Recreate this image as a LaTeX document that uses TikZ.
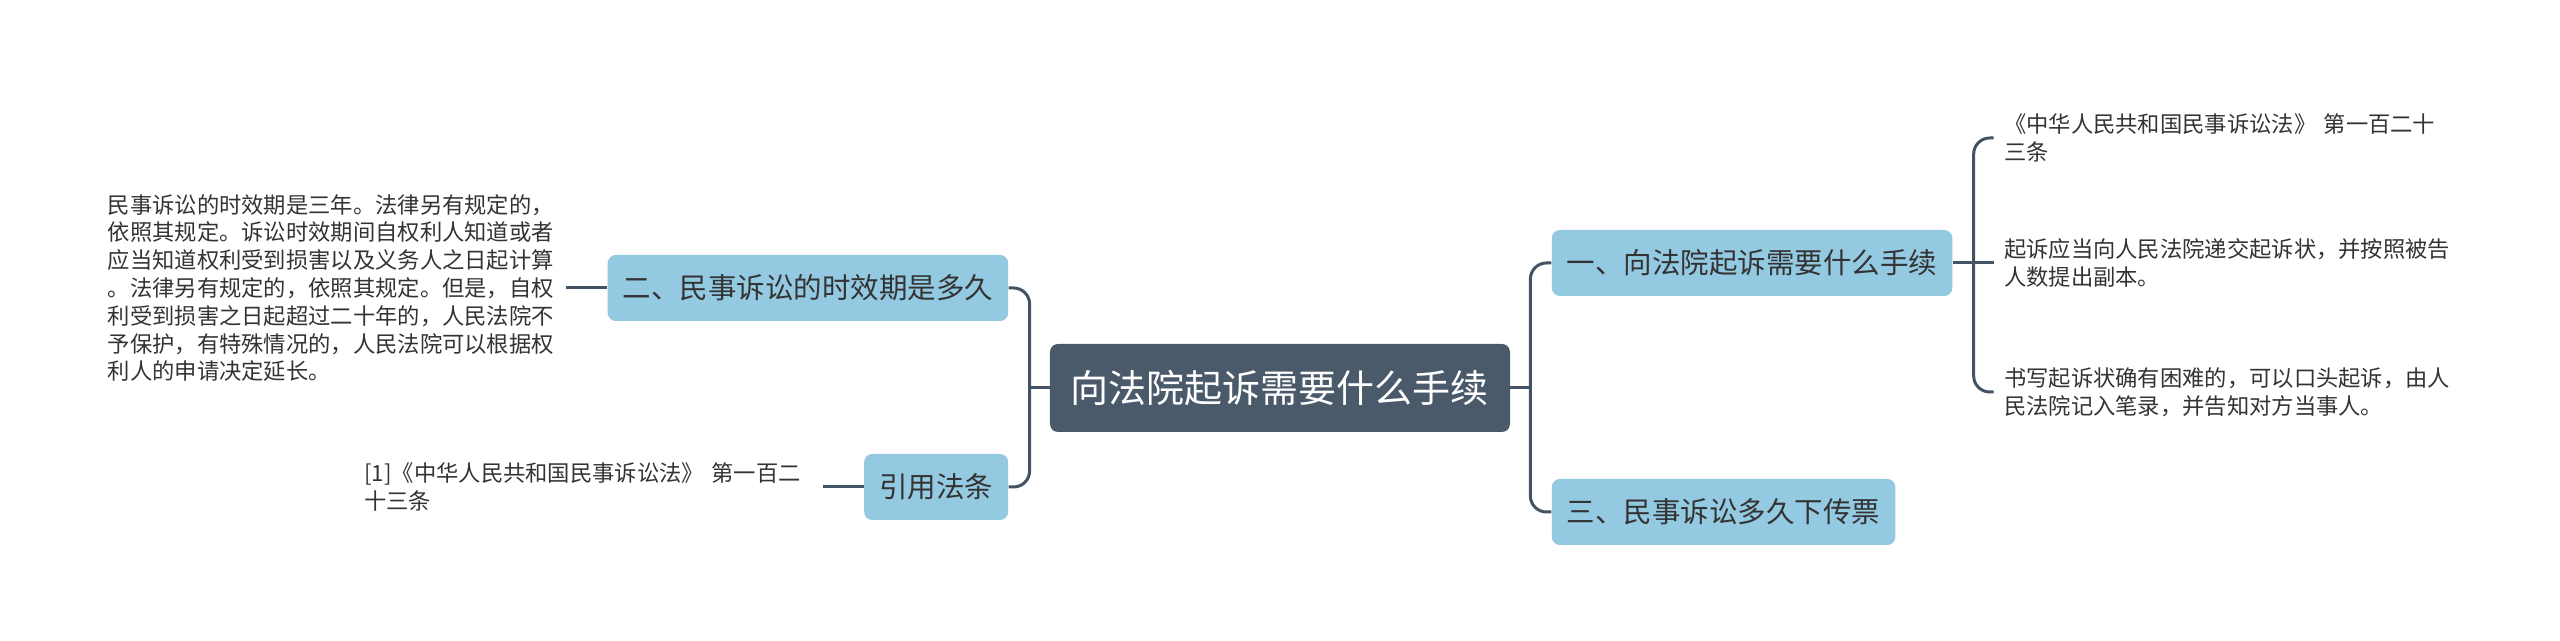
\documentclass[tikz,border=0pt]{standalone}
\usepackage{fontspec}
\usepackage{tikz}
\usetikzlibrary{positioning}
\setmainfont{Noto Sans CJK SC}
\definecolor{RootSlate}{HTML}{4B5A6A}
\definecolor{TopicBlue}{HTML}{94C9E2}
\definecolor{LinkGray}{HTML}{445364}
\definecolor{InkDark}{HTML}{333333}

\begin{document}
\begin{tikzpicture}[x=1pt, y=1pt, node distance=20.5pt,
    topic/.style={rounded corners=4pt, fill=TopicBlue, text=InkDark, font=\fontsize{14.25pt}{16pt}\selectfont, minimum height=33pt, inner xsep=7.5pt, inner ysep=0pt},
    leaf/.style={text width=224pt, align=left, inner xsep=5pt, inner ysep=2pt, text=InkDark, font=\fontsize{11.15pt}{13.9pt}\selectfont},
    link/.style={draw=LinkGray, line width=1.5pt, rounded corners=8pt}]
        \useasboundingbox (-640,-126.5) rectangle (640,194);
        \node (Root) [rounded corners=4pt, fill=RootSlate, text=white, font=\fontsize{19pt}{22pt}\selectfont, minimum width=230pt, minimum height=44pt] at (0,0) {向法院起诉需要什么手续};
        \node (Steps) [topic, right=of Root, yshift=62.5pt] {一、向法院起诉需要什么手续};
        \node (Summons) [topic, right=of Root, yshift=-62pt] {三、民事诉讼多久下传票};
        \node (Limit) [topic, left=of Root, yshift=50pt] {二、民事诉讼的时效期是多久};
        \node (Cite) [topic, left=of Root, yshift=-49.5pt] {引用法条};
        \node (LawRef) [leaf, right=of Steps, yshift=62.5pt] {《中华人民共和国民事诉讼法》 第一百二十\\三条};
        \node (Filing) [leaf, right=of Steps] {起诉应当向人民法院递交起诉状，并按照被告\\人数提出副本。};
        \node (Oral) [leaf, right=of Steps, yshift=-64.5pt] {书写起诉状确有困难的，可以口头起诉，由人\\民法院记入笔录，并告知对方当事人。};
        \node (LimitText) [leaf, left=of Limit] {民事诉讼的时效期是三年。法律另有规定的，\\依照其规定。诉讼时效期间自权利人知道或者\\应当知道权利受到损害以及义务人之日起计算\\。法律另有规定的，依照其规定。但是，自权\\利受到损害之日起超过二十年的，人民法院不\\予保护，有特殊情况的，人民法院可以根据权\\利人的申请决定延长。};
        \node (CiteText) [leaf, left=of Cite] {[1]《中华人民共和国民事诉讼法》 第一百二\\十三条};
        % junctions
        \coordinate (RootR) at ([xshift=10pt]Root.east);
        \coordinate (RootL) at ([xshift=-10pt]Root.west);
        \coordinate (StepsR) at ([xshift=10.5pt]Steps.east);
        \draw [link] (Root.east) -- (RootR);
        \draw [link] (RootR) |- (Steps.west);
        \draw [link] (RootR) |- (Summons.west);
        \draw [link] (Root.west) -- (RootL);
        \draw [link] (RootL) |- (Limit.east);
        \draw [link] (RootL) |- (Cite.east);
        \draw [link] (Steps.east) -- (Filing.west);
        \draw [link] (StepsR) |- (LawRef.west);
        \draw [link] (StepsR) |- (Oral.west);
        \draw [link] (Limit.west) -- (LimitText.east);
        \draw [link] (Cite.west) -- (CiteText.east);
    \end{tikzpicture}
\end{document}
